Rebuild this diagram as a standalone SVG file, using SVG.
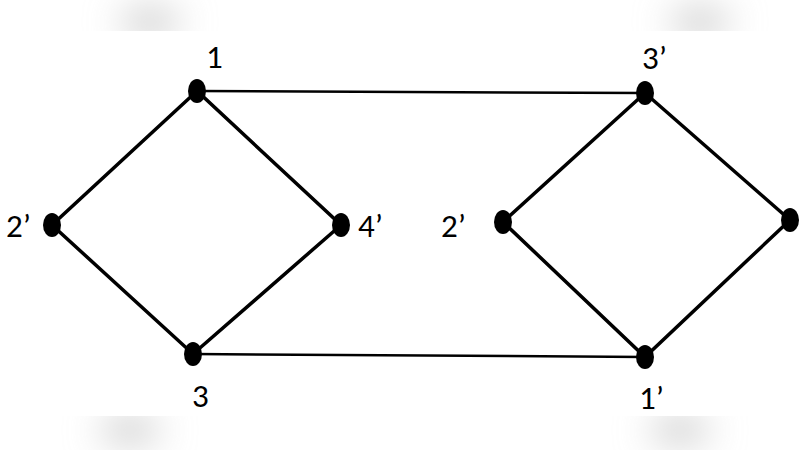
<svg xmlns="http://www.w3.org/2000/svg" width="800" height="450" viewBox="0 0 800 450">
<defs>
<style>
.e{stroke:#000;stroke-width:3.5;fill:none}
.t{stroke:#000;stroke-width:2.5;fill:none}
.n{fill:#000}
.l{font-family:"Carlito","Liberation Sans",sans-serif;font-size:33px;fill:#000}
</style>
<filter id="b" x="-1" y="-1" width="3" height="3"><feGaussianBlur stdDeviation="18"/></filter>
</defs>
<rect width="800" height="450" fill="#fff"/>
<g filter="url(#b)" fill="#ccc">
<ellipse cx="150" cy="22" rx="30" ry="14"/>
<ellipse cx="700" cy="22" rx="30" ry="14"/>
<ellipse cx="130" cy="430" rx="30" ry="14"/>
<ellipse cx="680" cy="430" rx="30" ry="14"/>
</g>
<rect x="0" y="31" width="800" height="385" fill="#fff"/>
<g id="connectors">
<line class="t" x1="197" y1="91" x2="645" y2="93"/>
<line class="t" x1="193" y1="354" x2="645" y2="357"/>
<path class="e" d="M197,91 L52,225 L193,354 L341,225 Z"/>
<path class="e" d="M645,93 L503,222 L645,357 L790,220 Z"/>
</g>
<g id="n1"><ellipse class="n" cx="197" cy="91" rx="9" ry="12"/><text class="l" x="206" y="68">1</text></g>
<g id="n2a"><ellipse class="n" cx="52" cy="225" rx="9" ry="12"/><text class="l" x="6" y="237">2’</text></g>
<g id="n3"><ellipse class="n" cx="193" cy="354" rx="9" ry="12"/><text class="l" x="192" y="407">3</text></g>
<g id="n4a"><ellipse class="n" cx="341" cy="225" rx="9" ry="12"/><text class="l" x="358" y="237">4’</text></g>
<g id="n3a"><ellipse class="n" cx="645" cy="93" rx="9" ry="12"/><text class="l" x="642" y="69">3’</text></g>
<g id="n2b"><ellipse class="n" cx="503" cy="222" rx="9" ry="12"/><text class="l" x="441" y="237">2’</text></g>
<g id="n5"><ellipse class="n" cx="790" cy="220" rx="9" ry="12"/></g>
<g id="n1a"><ellipse class="n" cx="645" cy="357" rx="9" ry="12"/><text class="l" x="639" y="409">1’</text></g>
</svg>
